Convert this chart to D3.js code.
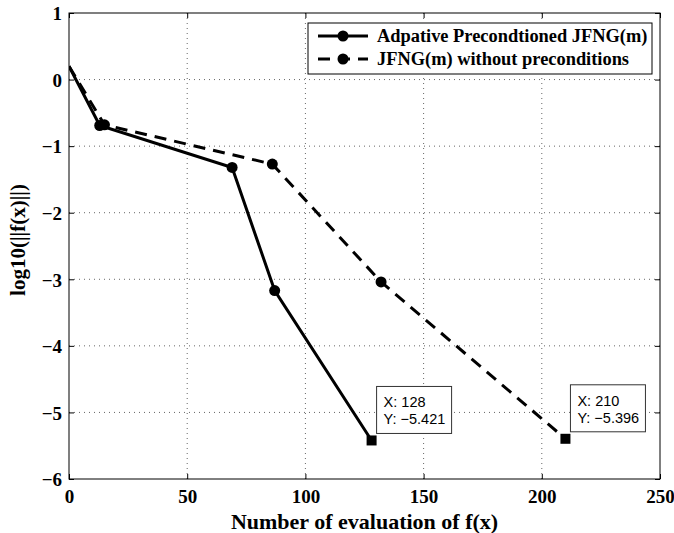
<!DOCTYPE html>
<html>
<head>
<meta charset="utf-8">
<script src="https://cdn.jsdelivr.net/npm/d3@7"></script>
<style>
  body { margin: 0; background: #fff; }
  svg { display: block; }
</style>
</head>
<body>
<svg id="chart" width="674" height="533"></svg>
<script>
// ---- data ----
const adaptiveX = [0, 13, 69, 87, 128];
const adaptiveY = [0.2, -0.69, -1.32, -3.17, -5.421];
const plainX = [0, 15, 86, 132, 210];
const plainY = [0.2, -0.68, -1.27, -3.04, -5.396];
const seriesNames = ["Adpative Precondtioned JFNG(m)", "JFNG(m) without preconditions"];
const xTicks = [0, 50, 100, 150, 200, 250];
const yTicks = [1, 0, -1, -2, -3, -4, -5, -6];
const tips = [
  { x: 128, y: -5.421, lines: ["X: 128", "Y: \u22125.421"] },
  { x: 210, y: -5.396, lines: ["X: 210", "Y: \u22125.396"] }
];

const svg = d3.select("#chart");
const L = 69, R = 660, T = 13, B = 479;
const x = d3.scaleLinear().domain([0, 250]).range([L, R]);
const y = d3.scaleLinear().domain([-6, 1]).range([B, T]);
const serif = "'Liberation Serif', 'Times New Roman', serif";
const sans = "'Liberation Sans', Arial, sans-serif";

svg.append("rect").attr("x", L).attr("y", T).attr("width", R - L).attr("height", B - T).attr("fill", "#fff");

// grid
const grid = svg.append("g").attr("stroke", "#666").attr("stroke-width", 1).attr("stroke-dasharray", "1,4");
xTicks.slice(1, -1).forEach(v => grid.append("line").attr("x1", x(v)).attr("x2", x(v)).attr("y1", T).attr("y2", B));
yTicks.slice(1, -1).forEach(v => grid.append("line").attr("x1", L).attr("x2", R).attr("y1", y(v)).attr("y2", y(v)));

// axes with inward ticks
const fmt = d => d < 0 ? "\u2212" + Math.abs(d) : String(d);
const xAxis = svg.append("g").attr("transform", `translate(0,${B})`)
  .call(d3.axisBottom(x).tickValues(xTicks).tickSizeInner(-5).tickSizeOuter(0).tickPadding(11).tickFormat(fmt));
const xAxisTop = svg.append("g").attr("transform", `translate(0,${T})`)
  .call(d3.axisTop(x).tickValues(xTicks).tickSizeInner(-5).tickSizeOuter(0).tickFormat(""));
const yAxis = svg.append("g").attr("transform", `translate(${L},0)`)
  .call(d3.axisLeft(y).tickValues(yTicks).tickSizeInner(-5).tickSizeOuter(0).tickPadding(7).tickFormat(fmt));
const yAxisR = svg.append("g").attr("transform", `translate(${R},0)`)
  .call(d3.axisRight(y).tickValues(yTicks).tickSizeInner(-5).tickSizeOuter(0).tickFormat(""));
[xAxis, xAxisTop, yAxis, yAxisR].forEach(g => {
  g.select(".domain").remove();
  g.selectAll("line").attr("stroke", "#000");
  g.selectAll("text").attr("font-family", serif).attr("font-weight", "bold").attr("font-size", 19).attr("fill", "#000");
});
xAxis.selectAll("text").attr("dy", "0.71em");
yAxis.selectAll("text").attr("dy", "0.36em");

// frame
svg.append("rect").attr("x", L).attr("y", T).attr("width", R - L).attr("height", B - T)
  .attr("fill", "none").attr("stroke", "#000").attr("stroke-width", 1);

// lines
const line = d3.line().x(d => x(d[0])).y(d => y(d[1]));
const s1 = adaptiveX.map((v, i) => [v, adaptiveY[i]]);
const s2 = plainX.map((v, i) => [v, plainY[i]]);
svg.append("clipPath").attr("id", "clip").append("rect")
  .attr("x", L).attr("y", T).attr("width", R - L).attr("height", B - T);
const plot = svg.append("g").attr("clip-path", "url(#clip)");
plot.append("path").attr("d", line(s2)).attr("fill", "none").attr("stroke", "#000")
  .attr("stroke-width", 3).attr("stroke-dasharray", "12,8");
plot.append("path").attr("d", line(s1)).attr("fill", "none").attr("stroke", "#000").attr("stroke-width", 3);
[s1, s2].forEach(s => {
  plot.selectAll(null).data(s.slice(1, -1)).enter().append("circle")
    .attr("cx", d => x(d[0])).attr("cy", d => y(d[1])).attr("r", 5.5).attr("fill", "#000");
});

// data tips
tips.forEach(t => {
  const px = x(t.x), py = y(t.y);
  svg.append("rect").attr("x", px - 5).attr("y", py - 5).attr("width", 10).attr("height", 10).attr("fill", "#000");
  const g = svg.append("g").attr("transform", `translate(${px + 5},${py - 54})`);
  g.append("rect").attr("x", 0).attr("y", 0).attr("width", 75).attr("height", 47)
    .attr("fill", "#fff").attr("stroke", "#333").attr("stroke-width", 1);
  t.lines.forEach((s, i) => g.append("text").attr("x", 7).attr("y", 21 + i * 17)
    .attr("font-family", sans).attr("font-size", 14.5).attr("fill", "#000").text(s));
});

// legend
const lg = svg.append("g");
lg.append("rect").attr("x", 308).attr("y", 23).attr("width", 344).attr("height", 51)
  .attr("fill", "#fff").attr("stroke", "#000").attr("stroke-width", 1);
seriesNames.forEach((name, i) => {
  const ly = 36 + i * 23;
  lg.append("line").attr("x1", 318).attr("x2", 368).attr("y1", ly).attr("y2", ly)
    .attr("stroke", "#000").attr("stroke-width", 3).attr("stroke-dasharray", i === 0 ? null : "12,8");
  lg.append("circle").attr("cx", 343).attr("cy", ly).attr("r", 5.5).attr("fill", "#000");
  lg.append("text").attr("x", 377).attr("y", ly).attr("dy", "0.35em")
    .attr("font-family", serif).attr("font-weight", "bold").attr("font-size", 18.4).text(name);
});

// axis labels
svg.append("text").attr("x", (L + R) / 2).attr("y", 529).attr("text-anchor", "middle")
  .attr("font-family", serif).attr("font-weight", "bold").attr("font-size", 22).text("Number of evaluation of f(x)");
svg.append("text").attr("transform", `translate(25,240) rotate(-90)`).attr("text-anchor", "middle")
  .attr("font-family", serif).attr("font-weight", "bold").attr("font-size", 21).text("log10(||f(x)||)");
</script>
</body>
</html>
